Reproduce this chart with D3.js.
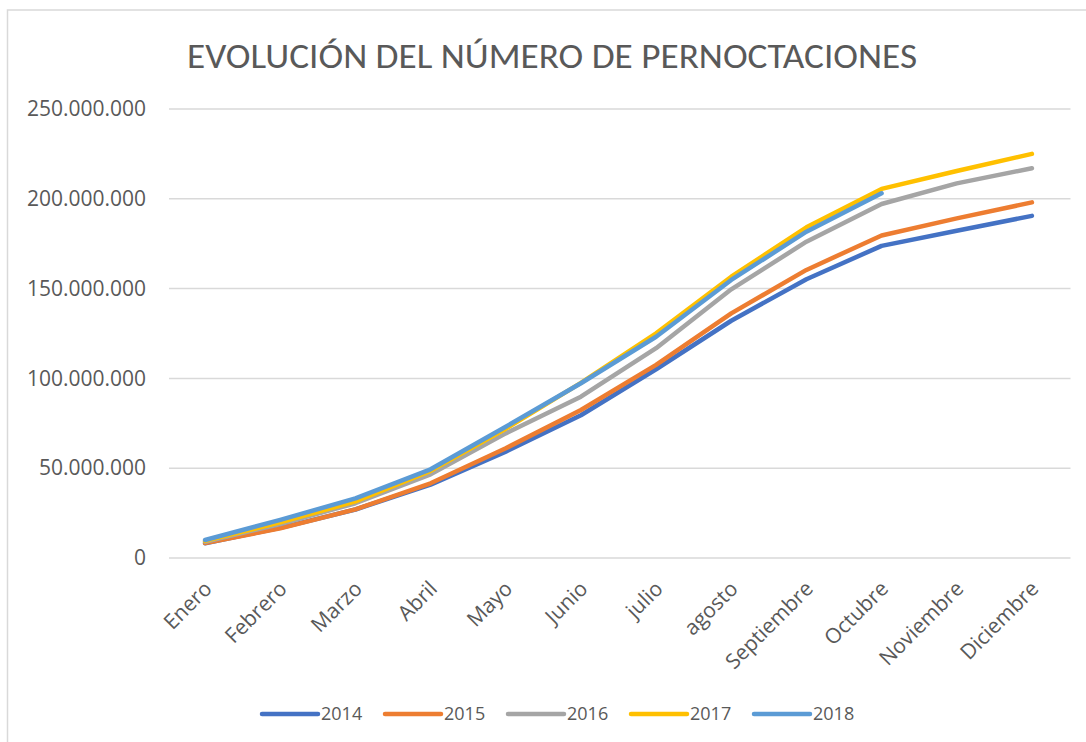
<!DOCTYPE html>
<html>
<head>
<meta charset="utf-8">
<script src="https://cdn.jsdelivr.net/npm/d3@7"></script>
<style>
  html, body { margin: 0; padding: 0; background: #fff; }
  svg { display: block; font-family: "Open Sans", sans-serif; }
</style>
</head>
<body>
<div id="chart"></div>
<script>
// Datos
const months = ['Enero', 'Febrero', 'Marzo', 'Abril', 'Mayo', 'Junio', 'julio', 'agosto',
  'Septiembre', 'Octubre', 'Noviembre', 'Diciembre'];

const years = ['2014', '2015', '2016', '2017', '2018'];

const v2014 = [8.2, 16.8, 27.0, 40.8, 59.2, 79.5, 105.1, 132.1, 155.2, 173.8, 182.2, 190.5];
const v2015 = [8.3, 16.5, 27.1, 41.6, 61.1, 82.4, 107.5, 136.2, 160.4, 179.6, 189.1, 198.0];
const v2016 = [9.0, 18.9, 30.5, 46.6, 69.4, 89.8, 116.8, 149.6, 176.1, 197.1, 208.6, 217.0];
const v2017 = [9.5, 19.8, 31.5, 48.5, 72.0, 97.5, 125.1, 156.6, 184.1, 205.5, 215.5, 225.0];
const v2018 = [10.0, 21.2, 33.2, 49.4, 73.1, 97.3, 123.2, 154.8, 181.7, 203.1];

const yTicks = [0, 50e6, 100e6, 150e6, 200e6, 250e6];

const colors = ['#4472C4', '#ED7D31', '#A5A5A5', '#FFC000', '#5B9BD5'];
const seriesValues = [v2014, v2015, v2016, v2017, v2018];

const width = 1086;
const height = 742;

const svg = d3.select('#chart').append('svg')
  .attr('width', width)
  .attr('height', height);

// marco del gráfico
svg.append('rect')
  .attr('x', 7.5).attr('y', 10)
  .attr('width', 1100).attr('height', 760)
  .attr('fill', 'none')
  .attr('stroke', '#d9d9d9')
  .attr('stroke-width', 1.5);

// Título
svg.append('text')
  .attr('x', 552).attr('y', 68)
  .attr('text-anchor', 'middle')
  .attr('fill', '#595959')
  .attr('font-family', 'Carlito, Calibri, "Open Sans", sans-serif')
  .attr('font-size', 34)
  .attr('textLength', 730)
  .attr('lengthAdjust', 'spacingAndGlyphs')
  .text('EVOLUCIÓN DEL NÚMERO DE PERNOCTACIONES');

const x = d3.scaleBand()
  .domain(months)
  .range([167.5, 1069.5]);

const y = d3.scaleLinear()
  .domain([0, 250e6])
  .range([558, 109]);

const es = d3.formatLocale({decimal: ',', thousands: '.', grouping: [3], currency: ['', '€']});
const fmt = es.format(',');

// Líneas de cuadrícula
svg.append('g')
  .selectAll('line')
  .data(yTicks)
  .join('line')
  .attr('x1', 169).attr('x2', 1070.5)
  .attr('y1', d => y(d)).attr('y2', d => y(d))
  .attr('stroke', '#d9d9d9')
  .attr('stroke-width', 1.5);

// Eje Y
const yAxis = svg.append('g')
  .attr('transform', 'translate(152,0)')
  .call(d3.axisLeft(y).tickValues(yTicks).tickSize(0).tickPadding(6).tickFormat(fmt));
yAxis.select('.domain').remove();
yAxis.selectAll('text')
  .attr('fill', '#595959')
  .attr('font-size', 21)
  .attr('font-family', '"Open Sans", sans-serif');

// Eje X
const xAxis = svg.append('g')
  .attr('transform', 'translate(0,558)')
  .call(d3.axisBottom(x).tickSize(0).tickPadding(0));
xAxis.select('.domain').remove();
xAxis.selectAll('text')
  .attr('fill', '#595959')
  .attr('font-size', 21)
  .attr('font-family', '"Open Sans", sans-serif')
  .attr('text-anchor', 'end')
  .attr('dy', null)
  .attr('y', 0)
  .attr('transform', 'translate(8,32) rotate(-45)');

// Series
const line = d3.line()
  .x((d, i) => x(months[i]) + x.bandwidth() / 2)
  .y(d => y(d * 1e6));

svg.append('g')
  .selectAll('path')
  .data(seriesValues)
  .join('path')
  .attr('d', d => line(d))
  .attr('fill', 'none')
  .attr('stroke', (d, i) => colors[i])
  .attr('stroke-width', 4.5)
  .attr('stroke-linecap', 'round')
  .attr('stroke-linejoin', 'round');

// Leyenda
const legend = svg.append('g')
  .selectAll('g')
  .data(years)
  .join('g')
  .attr('transform', (d, i) => `translate(${262 + i * 123},714)`);

legend.append('line')
  .attr('x1', 0).attr('x2', 56)
  .attr('stroke', (d, i) => colors[i])
  .attr('stroke-width', 4.5)
  .attr('stroke-linecap', 'round');

legend.append('text')
  .attr('x', 59)
  .attr('dy', '0.35em')
  .attr('fill', '#595959')
  .attr('font-size', 18)
  .text(d => d);
</script>
</body>
</html>
